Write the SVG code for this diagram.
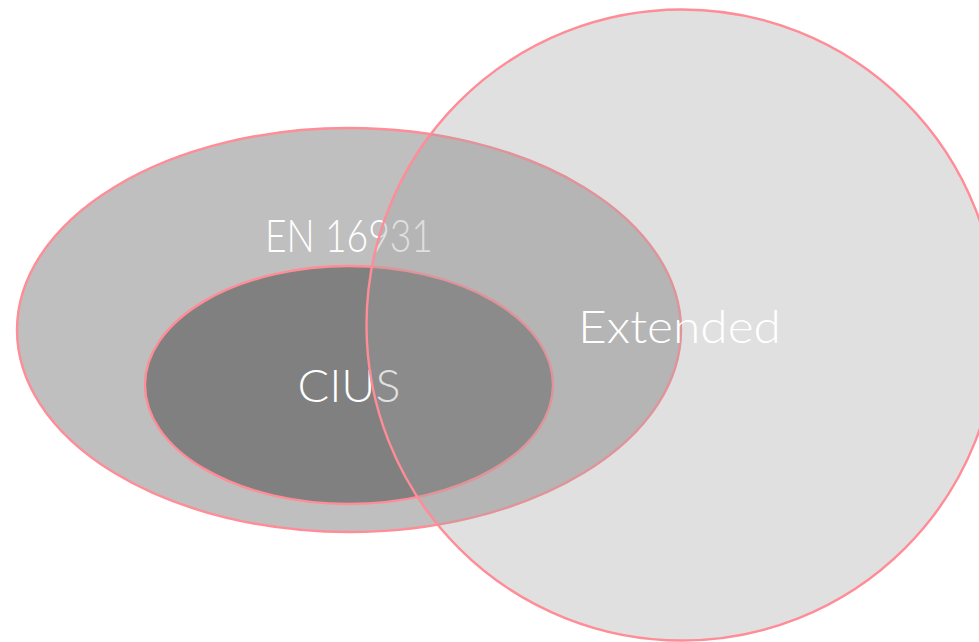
<svg xmlns="http://www.w3.org/2000/svg" width="979" height="642" viewBox="0 0 979 642">
<style>
.shape{stroke:#ff8c96;stroke-width:2.4}
.lbl{font-family:Lato,"Liberation Sans",sans-serif;font-weight:300;font-size:46px;fill:#ffffff;text-anchor:middle}
</style>
<rect width="979" height="642" fill="#ffffff"/>
<g id="en16931">
<ellipse class="shape" cx="349" cy="330" rx="332" ry="202" fill="#bfbfbf"/>
<text class="lbl" x="349" y="252" textLength="168" lengthAdjust="spacingAndGlyphs">EN 16931</text>
</g>
<g id="cius">
<ellipse class="shape" cx="349" cy="385" rx="204" ry="119" fill="#808080"/>
<text class="lbl" x="349" y="402" textLength="103" lengthAdjust="spacingAndGlyphs">CIUS</text>
</g>
<g id="extended">
<circle cx="682" cy="325" r="315.5" fill="#a0a0a0" fill-opacity="0.33" stroke="none"/>
<circle class="shape" cx="682" cy="325" r="315.5" fill="none"/>
<text class="lbl" x="679.5" y="343" textLength="203" lengthAdjust="spacingAndGlyphs">Extended</text>
</g>
<g id="connectors"/>
</svg>
